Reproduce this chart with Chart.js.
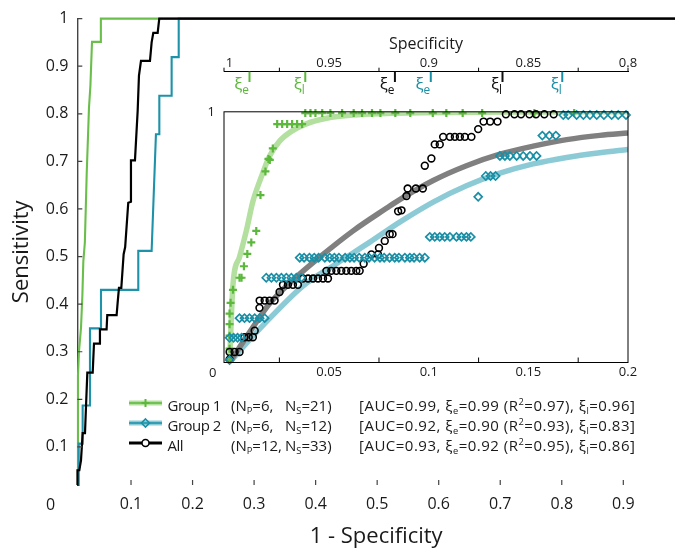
<!DOCTYPE html>
<html>
<head>
<meta charset="utf-8">
<script src="https://cdn.jsdelivr.net/npm/chart.js@4.4.1/dist/chart.umd.min.js"></script>
<style>
  body { margin: 0; background: #fff; }
  #wrap { position: relative; width: 675px; height: 550px; font-family: 'Open Sans', sans-serif; color: #1a1a1a; }
  #wrap canvas { position: absolute; }
  .txt { position: absolute; white-space: nowrap; line-height: 1; }
  .txt sub, .txt sup { font-size: 0.62em; line-height: 0; }
  .txt sub { vertical-align: -0.3em; }
  .txt sup { vertical-align: 0.6em; }
  .xi sub { font-size: 0.7em; vertical-align: -0.35em; }
</style>
</head>
<body>
<div id="wrap">
  <canvas id="main" width="675" height="550" style="left:0;top:0"></canvas>
  <canvas id="topAxis" width="440" height="70" style="left:200px;top:20px"></canvas>
  <canvas id="inset" width="440" height="300" style="left:200px;top:95px"></canvas>
  <div id="legend"></div>
  <div id="xiLabels"></div>
  <div class="txt" style="left:46px;top:496px;font-size:16px">0</div>
  <div class="txt" style="left:209px;top:366px;font-size:13px">0</div>
</div>
<script>
// ---- main ROC curves (1 - specificity, sensitivity) ----
const g1Fpr  = [0.0127, 0.0138, 0.0154, 0.0187, 0.0210, 0.0225, 0.0250, 0.0280, 0.0317, 0.0340, 0.0366, 0.0510, 0.0510, 1.0];
const g1Sens = [0.02, 0.25, 0.30, 0.35, 0.42, 0.49, 0.53, 0.675, 0.813, 0.859, 0.951, 0.951, 1.0, 1.0];
const g2Fpr  = [0.0143, 0.0150, 0.0214, 0.0214, 0.0333, 0.0333, 0.0512, 0.0512, 0.1118, 0.1118, 0.1335, 0.1405, 0.1460, 0.1460, 0.1660, 0.1660, 0.1775, 0.1775, 1.0];
const g2Sens = [0.02, 0.107, 0.107, 0.187, 0.187, 0.349, 0.349, 0.430, 0.430, 0.512, 0.512, 0.757, 0.757, 0.838, 0.838, 0.919, 0.919, 1.0, 1.0];
const allFpr  = [0.0127, 0.0130, 0.0160, 0.0187, 0.0214, 0.0252, 0.0270, 0.0290, 0.0377, 0.0398, 0.0484, 0.0495, 0.0603, 0.0614, 0.0766, 0.0782, 0.0804, 0.0842, 0.0880, 0.0905, 0.0955, 0.0999, 0.0999, 0.1064, 0.1108, 0.1129, 0.1162, 0.1308, 0.1335, 0.1362, 0.1433, 0.1459, 1.0];
const allSens = [0.02, 0.051, 0.051, 0.072, 0.129, 0.129, 0.19, 0.256, 0.256, 0.317, 0.317, 0.347, 0.347, 0.377, 0.377, 0.402, 0.434, 0.434, 0.505, 0.52, 0.613, 0.615, 0.702, 0.702, 0.806, 0.880, 0.911, 0.911, 0.950, 0.970, 0.970, 1.0, 1.0];
const mainXTicks = [0.1, 0.2, 0.3, 0.4, 0.5, 0.6, 0.7, 0.8, 0.9];
const mainYTicks = [0.1, 0.2, 0.3, 0.4, 0.5, 0.6, 0.7, 0.8, 0.9, 1];

// ---- inset: individual operating points, [1 - specificity, sensitivity] ----
const g1Points = [
  [0.038, 0.995], [0.0406, 0.995], [0.0431, 0.995], [0.0465, 0.995], [0.0506, 0.995], [0.0565, 0.995],
  [0.0623, 0.995], [0.0665, 0.995], [0.0715, 0.995], [0.0757, 0.995], [0.0832, 0.995], [0.0907, 0.995],
  [0.102, 0.995], [0.1088, 0.995], [0.117, 0.995], [0.1268, 0.995], [0.153, 0.995], [0.173, 0.995],
  [0.0239, 0.951], [0.0264, 0.951], [0.0289, 0.951], [0.0314, 0.951], [0.0339, 0.951], [0.0364, 0.951],
  [0.0217, 0.854], [0.0202, 0.808], [0.0195, 0.812], [0.018, 0.762], [0.0155, 0.668], [0.0134, 0.525],
  [0.0109, 0.479], [0.0089, 0.433], [0.0072, 0.384], [0.005, 0.338], [0.006, 0.338], [0.0017, 0.29],
  [0.0005, 0.238], [0, 0.195], [0, 0.153], [0, 0.107], [0, 0.055], [0, 0.01]
];
const g2Points = [
  [0.1675, 0.987], [0.17, 0.987], [0.1742, 0.987], [0.1776, 0.987], [0.1809, 0.987], [0.1843, 0.987],
  [0.1879, 0.987], [0.1918, 0.987], [0.1951, 0.987], [0.199, 0.987],
  [0.157, 0.905], [0.1605, 0.905], [0.1638, 0.905],
  [0.1357, 0.824], [0.1382, 0.824], [0.1407, 0.824], [0.1441, 0.824], [0.1474, 0.824], [0.1508, 0.824], [0.1541, 0.824],
  [0.1286, 0.744], [0.131, 0.744], [0.1335, 0.744], [0.1248, 0.661],
  [0.1005, 0.501], [0.103, 0.501], [0.1055, 0.501], [0.108, 0.501], [0.1106, 0.501], [0.1139, 0.501],
  [0.1164, 0.501], [0.1189, 0.501], [0.1211, 0.501],
  [0.0352, 0.418], [0.0374, 0.418], [0.0401, 0.418], [0.0425, 0.418], [0.0447, 0.418], [0.0478, 0.418],
  [0.0503, 0.418], [0.0526, 0.418], [0.0549, 0.418], [0.0580, 0.418], [0.0604, 0.418], [0.0625, 0.418],
  [0.0651, 0.418], [0.0679, 0.418], [0.0700, 0.418], [0.0728, 0.418], [0.0755, 0.418], [0.0776, 0.418],
  [0.0803, 0.418], [0.0829, 0.418], [0.0850, 0.418], [0.0880, 0.418], [0.0905, 0.418], [0.0926, 0.418],
  [0.0954, 0.418], [0.0980, 0.418],
  [0.0184, 0.338], [0.021, 0.338], [0.0235, 0.338], [0.026, 0.338], [0.0285, 0.338], [0.031, 0.338],
  [0.0335, 0.338], [0.036, 0.338],
  [0.005, 0.177], [0.0075, 0.177], [0.01, 0.177], [0.0126, 0.177], [0.0151, 0.177], [0.0176, 0.177],
  [0, 0.0985], [0.002, 0.0985], [0.004, 0.0985], [0.006, 0.0985], [0, 0.01]
];
const allPoints = [
  [0.1387, 0.99], [0.143, 0.99], [0.1463, 0.99], [0.1505, 0.99], [0.1538, 0.99], [0.158, 0.99], [0.1627, 0.99],
  [0.1275, 0.961], [0.1308, 0.961], [0.1345, 0.961], [0.1248, 0.931],
  [0.1072, 0.9], [0.1106, 0.9], [0.1131, 0.9], [0.1156, 0.9], [0.1181, 0.9], [0.1214, 0.9],
  [0.103, 0.87], [0.1055, 0.87], [0.1013, 0.814], [0.098, 0.785],
  [0.0894, 0.694], [0.0935, 0.694], [0.097, 0.694], [0.0888, 0.664], [0.0846, 0.603], [0.0863, 0.607],
  [0.0804, 0.512], [0.0818, 0.512], [0.0779, 0.485], [0.075, 0.457], [0.0712, 0.431], [0.0745, 0.431], [0.0673, 0.394],
  [0.0486, 0.3655], [0.0511, 0.3655], [0.0536, 0.3655], [0.0561, 0.3655], [0.0586, 0.3655], [0.0611, 0.3655],
  [0.0636, 0.3655], [0.0653, 0.3655],
  [0.0368, 0.335], [0.0394, 0.335], [0.0419, 0.335], [0.0444, 0.335], [0.0469, 0.335], [0.0494, 0.335],
  [0.0268, 0.31], [0.0293, 0.31], [0.0318, 0.31], [0.0343, 0.31], [0.0251, 0.281],
  [0.0151, 0.247], [0.0176, 0.247], [0.0201, 0.247], [0.0226, 0.247], [0.015, 0.218], [0.0126, 0.127],
  [0.0075, 0.101], [0.0096, 0.101], [0.0117, 0.101], [0, 0.042], [0.0025, 0.042], [0.005, 0.042], [0, 0.0125]
];

// ---- inset: fitted curves ----
const g1FitX = [0, 0.0017, 0.005, 0.0084, 0.0117, 0.0159, 0.0201, 0.0251, 0.031, 0.0385, 0.0486, 0.062, 0.0787, 0.0955, 0.14, 0.2];
const g1FitY = [0, 0.31, 0.421, 0.525, 0.642, 0.74, 0.824, 0.883, 0.922, 0.952, 0.974, 0.987, 0.993, 0.996, 0.999, 1.0];
const g2FitX = [0, 0.01, 0.02, 0.0368, 0.0536, 0.0704, 0.0854, 0.1022, 0.1189, 0.1357, 0.1524, 0.1692, 0.1859, 0.2];
const g2FitY = [0, 0.09, 0.175, 0.305, 0.394, 0.48, 0.56, 0.64, 0.705, 0.755, 0.792, 0.818, 0.837, 0.85];
const allFitX = [0, 0.01, 0.0201, 0.0327, 0.0452, 0.062, 0.0787, 0.0854, 0.1022, 0.1189, 0.1357, 0.1524, 0.1692, 0.1859, 0.2];
const allFitY = [0, 0.12, 0.235, 0.335, 0.42, 0.525, 0.615, 0.65, 0.726, 0.785, 0.831, 0.863, 0.889, 0.906, 0.915];
const insetXTicks = [0.05, 0.1, 0.15, 0.2];
const insetTickMarks = [0.025, 0.075, 0.125, 0.175];

// ---- top specificity axis with xi markers ----
const topSpecTicks = [1, 0.95, 0.9, 0.85, 0.8];
const xiSpec  = [0.990, 0.962, 0.917, 0.899, 0.863, 0.833];
const xiGroup = ['g1', 'g1', 'all', 'g2', 'all', 'g2'];
const xiSub   = ['e', 'l', 'e', 'e', 'l', 'l'];

// ---- legend ----
const legendNames = ['Group 1', 'Group 2', 'All'];
const legendNp  = [6, 6, 12];
const legendNs  = [21, 12, 33];
const legendAuc = ['0.99', '0.92', '0.93'];
const legendXiE = ['0.99', '0.90', '0.92'];
const legendR2  = ['0.97', '0.93', '0.95'];
const legendXiL = ['0.96', '0.83', '0.86'];

const colors = {
  g1: '#6abf4b', g1Pt: '#5bb83b', g1Fit: '#b3e09f',
  g2: '#1d92a8', g2Pt: '#1a8fa6', g2Fit: '#8ccbd6',
  all: '#000000', allFit: '#808080'
};

Chart.defaults.font.family = "'Open Sans', sans-serif";
Chart.defaults.color = '#1a1a1a';

const toPts = (xs, ys) => xs.map((x, i) => ({ x, y: ys[i] }));
const pairPts = ps => ps.map(p => ({ x: p[0], y: p[1] }));
const fmt = v => String(+(+v).toFixed(3));

// inward tick marks and optional frame
Chart.register({
  id: 'axisMarks',
  afterDatasetsDraw(chart, args, o) {
    if (!o || !o.len) return;
    const { ctx, chartArea: a } = chart;
    const sx = chart.scales.x, sy = chart.scales.y;
    ctx.save();
    ctx.strokeStyle = o.color;
    ctx.lineWidth = o.width;
    if (o.box) ctx.strokeRect(a.left, a.top, a.right - a.left, a.bottom - a.top);
    ctx.beginPath();
    (o.xMarks || []).forEach(v => {
      const p = sx.getPixelForValue(v);
      const y0 = o.xSide === 'top' ? a.top : a.bottom;
      ctx.moveTo(p, y0);
      ctx.lineTo(p, y0 - o.len);
    });
    (o.yMarks || []).forEach(v => {
      const p = sy.getPixelForValue(v);
      ctx.moveTo(a.left, p);
      ctx.lineTo(a.left + o.len, p);
    });
    ctx.stroke();
    ctx.restore();
  }
});

const baseOpts = { animation: false, responsive: false, events: [] };

// main chart
new Chart(document.getElementById('main'), {
  type: 'scatter',
  data: {
    datasets: [
      { data: toPts(allFpr, allSens), showLine: true, borderColor: colors.all, borderWidth: 2.2, pointRadius: 0, clip: false, order: 0 },
      { data: toPts(g2Fpr, g2Sens), showLine: true, borderColor: colors.g2, borderWidth: 2.1, pointRadius: 0, clip: false, order: 1 },
      { data: toPts(g1Fpr, g1Sens), showLine: true, borderColor: colors.g1, borderWidth: 2.1, pointRadius: 0, clip: false, order: 2 }
    ]
  },
  options: {
    ...baseOpts,
    layout: { padding: { top: 15.3, right: 0, left: 0, bottom: 0 } },
    plugins: {
      legend: { display: false }, tooltip: { enabled: false },
      axisMarks: { len: 5, color: '#444', width: 1.2, xMarks: mainXTicks, yMarks: mainYTicks }
    },
    scales: {
      x: {
        type: 'linear', min: 0.0127, max: 0.984,
        afterBuildTicks: s => { s.ticks = mainXTicks.map(v => ({ value: v })); },
        afterFit: s => { s.height = 65; },
        grid: { display: false, drawTicks: false }, border: { display: false },
        ticks: { padding: 10, autoSkip: false, maxRotation: 0, font: { size: 16 }, callback: fmt },
        title: { display: true, text: '1 - Specificity', font: { size: 22 }, padding: { top: 0, bottom: 0 } }
      },
      y: {
        type: 'linear', min: 0.02, max: 1,
        afterBuildTicks: s => { s.ticks = mainYTicks.map(v => ({ value: v })); },
        afterFit: s => { s.width = 77.3; },
        grid: { display: false, drawTicks: false }, border: { display: true, color: '#444', width: 1.4 },
        ticks: { padding: 9, autoSkip: false, font: { size: 16 }, callback: fmt },
        title: { display: true, text: 'Sensitivity', font: { size: 22 }, padding: { top: 9, bottom: 0 } }
      }
    }
  }
});

// inset chart
const markerSet = (pts, style, r, color, bw, order) => ({
  data: pairPts(pts), showLine: false, pointStyle: style, pointRadius: r,
  pointBorderColor: color, pointBackgroundColor: 'rgba(255,255,255,0)', pointBorderWidth: bw, clip: 6, order
});
const fitSet = (xs, ys, color, order) => ({
  data: toPts(xs, ys), showLine: true, pointRadius: 0, borderColor: color, borderWidth: 5.5,
  cubicInterpolationMode: 'monotone', order
});

new Chart(document.getElementById('inset'), {
  type: 'scatter',
  data: {
    datasets: [
      markerSet(g2Points, 'rectRot', 4, colors.g2Pt, 1.7, 0),
      markerSet(allPoints, 'circle', 3.4, '#000', 1.6, 1),
      markerSet(g1Points, 'cross', 4, colors.g1Pt, 2.2, 2),
      fitSet(allFitX, allFitY, colors.allFit, 3),
      fitSet(g2FitX, g2FitY, colors.g2Fit, 4),
      fitSet(g1FitX, g1FitY, colors.g1Fit, 5)
    ]
  },
  options: {
    ...baseOpts,
    layout: { padding: { top: 11.7, right: 12, left: 0, bottom: 0 } },
    plugins: {
      legend: { display: false }, tooltip: { enabled: false },
      axisMarks: { len: 5, color: '#000', width: 1, box: true, xMarks: insetTickMarks }
    },
    scales: {
      x: {
        type: 'linear', min: -0.0028, max: 0.2,
        afterBuildTicks: s => { s.ticks = insetXTicks.map(v => ({ value: v })); },
        afterFit: s => { s.height = 32.5; },
        grid: { display: false, drawTicks: false }, border: { display: false },
        ticks: { padding: 2.2, autoSkip: false, maxRotation: 0, font: { size: 13 }, callback: fmt }
      },
      y: {
        type: 'linear', min: 0, max: 1,
        afterBuildTicks: s => { s.ticks = [{ value: 1 }]; },
        afterFit: s => { s.width = 24; },
        grid: { display: false, drawTicks: false }, border: { display: false },
        ticks: { padding: 9, font: { size: 13 }, callback: fmt }
      }
    }
  }
});

// top specificity axis
const xiColor = { g1: colors.g1Pt, g2: colors.g2Pt, all: '#111' };
new Chart(document.getElementById('topAxis'), {
  type: 'scatter',
  data: {
    datasets: xiSpec.map((s, i) => ({
      data: [{ x: 1 - s, y: 0 }, { x: 1 - s, y: 1 }], showLine: true, pointRadius: 0,
      borderColor: xiColor[xiGroup[i]], borderWidth: 2, clip: false
    }))
  },
  options: {
    ...baseOpts,
    layout: { padding: { top: 0, right: 12, left: 24, bottom: 8 } },
    plugins: {
      legend: { display: false }, tooltip: { enabled: false },
      axisMarks: { len: 4, color: '#000', width: 1, xSide: 'top', xMarks: [-0.0028, 0.025, 0.075, 0.125, 0.175, 0.2] }
    },
    scales: {
      x: {
        type: 'linear', position: 'top', min: -0.0028, max: 0.2,
        afterBuildTicks: s => { s.ticks = topSpecTicks.map(v => ({ value: 1 - v })); },
        afterFit: s => { s.height = 51.7; },
        grid: { display: false, drawTicks: false }, border: { display: true, color: '#000', width: 1 },
        ticks: { padding: 0.9, autoSkip: false, maxRotation: 0, font: { size: 13 }, callback: v => fmt(1 - v) },
        title: { display: true, text: 'Specificity', font: { size: 16 }, padding: { top: 14.4, bottom: 0 } }
      },
      y: { type: 'linear', min: 0, max: 1, display: false }
    }
  },
  plugins: [{
    id: 'xiLabels',
    afterDraw(chart) {
      const sx = chart.scales.x;
      document.getElementById('xiLabels').innerHTML = xiSpec.map((s, i) => {
        const px = 200 + sx.getPixelForValue(1 - s);
        return `<div class="txt xi" style="left:${px - 0.5}px;top:75.4px;font-size:17px;color:${xiColor[xiGroup[i]]};transform:translateX(-100%)">ξ<sub>${xiSub[i]}</sub></div>`;
      }).join('');
    }
  }]
});

// legend
const rowTop = [397.5, 417.5, 437.5];
const swatch = [
  `<line x1="0" y1="6" x2="33" y2="6" stroke="${colors.g1Fit}" stroke-width="5"/><line x1="0" y1="6" x2="33" y2="6" stroke="${colors.g1Pt}" stroke-width="1.5"/><path d="M16.5 2V10M12.5 6H20.5" stroke="${colors.g1Pt}" stroke-width="2"/>`,
  `<line x1="0" y1="6" x2="33" y2="6" stroke="${colors.g2Fit}" stroke-width="5"/><line x1="0" y1="6" x2="33" y2="6" stroke="${colors.g2Pt}" stroke-width="1.5"/><path d="M16.5 2L20.5 6L16.5 10L12.5 6Z" fill="none" stroke="${colors.g2Pt}" stroke-width="1.6"/>`,
  `<line x1="0" y1="6" x2="33" y2="6" stroke="#000" stroke-width="3"/><circle cx="16.5" cy="6" r="3.5" fill="#fff" stroke="#000" stroke-width="1.5"/>`
];
document.getElementById('legend').innerHTML = legendNames.map((name, i) => {
  const t = rowTop[i];
  return `<svg class="txt" style="left:129px;top:${t - 1}px" width="33" height="12">${swatch[i]}</svg>` +
    `<div class="txt" style="left:167.5px;top:${t}px;font-size:15px;letter-spacing:-0.5px">${name}</div>` +
    `<div class="txt" style="left:231px;top:${t}px;font-size:15px">(N<sub>P</sub>=${legendNp[i]},</div>` +
    `<div class="txt" style="left:285px;top:${t}px;font-size:15px">N<sub>S</sub>=${legendNs[i]})</div>` +
    `<div class="txt" style="left:359px;top:${t}px;font-size:15px;letter-spacing:0.5px">[AUC=${legendAuc[i]}, ξ<sub>e</sub>=${legendXiE[i]} (R<sup>2</sup>=${legendR2[i]}), ξ<sub>l</sub>=${legendXiL[i]}]</div>`;
}).join('');
</script>
</body>
</html>
